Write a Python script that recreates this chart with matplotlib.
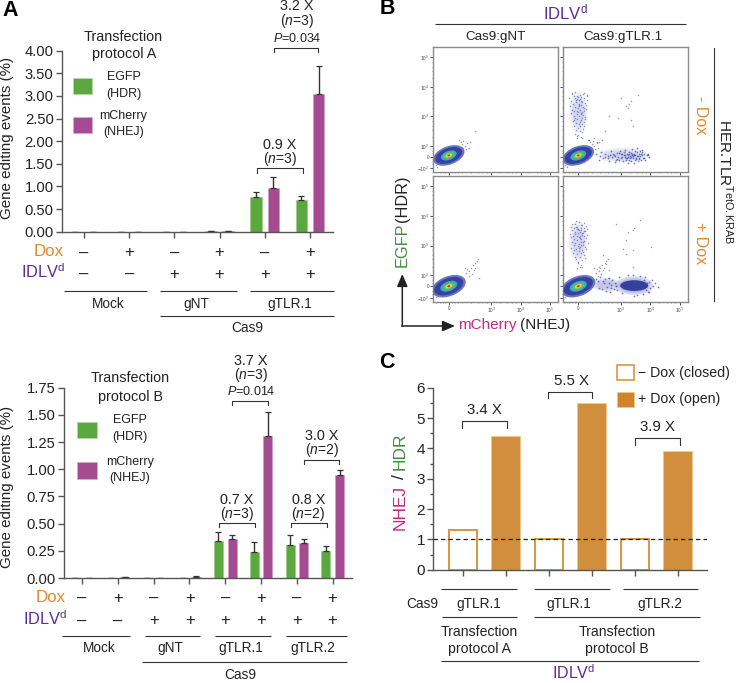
import matplotlib
matplotlib.use("Agg")
import matplotlib.pyplot as plt
from matplotlib.patches import Ellipse, Rectangle

W, H = 736, 683

plt.rcParams['font.family'] = ['Liberation Sans', 'DejaVu Sans']
plt.rcParams['mathtext.fontset'] = 'custom'
plt.rcParams['mathtext.rm'] = 'Liberation Sans'
plt.rcParams['mathtext.it'] = 'Liberation Sans:italic'
plt.rcParams['mathtext.bf'] = 'Liberation Sans:bold'

# Colours
GREEN = '#5ba83f'
MAGENTA = '#a54b91'
ORANGE = '#d18e3c'
DOX_ORANGE = '#e08a2e'
PURPLE = '#5b2d91'
TXT = '#222222'
AXC = '#555555'

# Panel A, protocol A
dox_a = ['-', '+', '-', '+', '-', '+']
idlv_a = ['-', '-', '+', '+', '+', '+']
egfp_a = [0, 0, 0, 0.005, 0.76, 0.69]
egfp_a_top = [0, 0, 0, 0.01, 0.88, 0.79]
mcherry_a = [0, 0, 0, 0.005, 0.96, 3.05]
mcherry_a_top = [0, 0, 0, 0.01, 1.20, 3.66]
yticks_a = [0, 0.5, 1, 1.5, 2, 2.5, 3, 3.5, 4]

# Panel A, protocol B
dox_b = ['-', '+', '-', '+', '-', '+', '-', '+']
idlv_b = ['-', '-', '+', '+', '+', '+', '+', '+']
egfp_b = [0, 0, 0, 0, 0.34, 0.235, 0.305, 0.245]
egfp_b_top = [0, 0, 0, 0, 0.42, 0.335, 0.40, 0.295]
mcherry_b = [0, 0.005, 0, 0.01, 0.355, 1.305, 0.32, 0.95]
mcherry_b_top = [0, 0.008, 0, 0.015, 0.40, 1.53, 0.36, 0.99]
yticks_b = [0, 0.25, 0.5, 0.75, 1, 1.25, 1.5, 1.75]

# Panel C
closed_c = [1.3, 1.0, 1.0]
open_c = [4.4, 5.5, 3.9]

# Panel B, density core of the flow plots: widths, heights, colours (outer to inner)
core_w = [1.12, 0.96, 0.56, 0.4, 0.23, 0.1]
core_h = [0.62, 0.5, 0.3, 0.2, 0.12, 0.06]
core_col = ['#6c74c0', '#36429f', '#35aacb', '#62c060', '#e8d838', '#d8232a']

# tiny fringe round the core, left panels
fringe_top_x = [0.45, 0.55, 0.62, 0.5, 0.68, 0.4, 0.58, 0.72, 0.35, 0.47, -0.45, -0.4, 0.9]
fringe_top_y = [0.42, 0.36, 0.47, 0.52, 0.3, 0.5, 0.25, 0.5, 0.55, 0.28, -0.3, -0.36, 0.88]
fringe_bot_x = [0.6, 0.7, 0.75, 0.82, 0.62, 0.9, 0.95, 0.68, 0.78, 0.85, 0.55, 1.0, 1.02, -0.45, 0.88]
fringe_bot_y = [0.45, 0.5, 0.62, 0.7, 0.58, 0.78, 0.85, 0.35, 0.42, 0.55, 0.6, 0.9, 0.28, -0.35, 0.62]

# Vertical EGFP cloud, - Dox gTLR.1
vert_top_x = [-0.22, -0.1, 0.05, 0.2, 0.28, -0.3, -0.15, 0.1, 0.18, -0.05, 0.3, -0.25, -0.08, 0.12, 0.22,
              -0.18, 0.02, 0.25, -0.28, 0.08, -0.12, 0.15, -0.02, 0.26, -0.2, 0.06, -0.14, 0.19, 0.0, -0.24,
              0.1, -0.06, 0.16, -0.16, 0.04, 0.22, -0.1, 0.13, -0.03, 0.08, -0.18, 0.2, -0.08, 0.03, 0.11,
              -0.13, 0.07, -0.02, 0.16, -0.07, 0.05, 0.12, -0.11, 0.0, 0.09, -0.04, 0.14, 0.02, -0.09, 0.3,
              0.34, -0.05, 0.06, 0.1, -0.12, 0.01, 0.18, -0.06, 0.08, 0.24, 0.36, -0.2, 0.15, -0.01, 0.04,
              0.12, -0.15, 0.07, 0.2, -0.03]
vert_top_y = [2.16, 2.2, 2.09, 2.16, 2.06, 2.0, 2.04, 2.01, 1.98, 1.96, 1.92, 1.88, 1.9, 1.85, 1.82,
              1.77, 1.79, 1.75, 1.71, 1.74, 1.67, 1.69, 1.63, 1.61, 1.57, 1.59, 1.53, 1.55, 1.51, 1.48,
              1.47, 1.43, 1.41, 1.39, 1.36, 1.35, 1.31, 1.31, 1.27, 1.23, 1.2, 1.18, 1.14, 1.12, 1.09,
              1.04, 1.02, 0.98, 0.94, 0.91, 0.86, 0.82, 0.78, 0.74, 0.68, 0.63, 0.62, 1.93, 1.84, 2.09,
              0.57, 2.06, 1.96, 1.88, 1.98, 1.75, 1.66, 1.54, 1.44, 1.28, 0.55, 2.12, 2.13, 2.02, 1.7,
              1.51, 1.25, 1.17, 1.04, 0.71]

# Horizontal mCherry cloud, - Dox gTLR.1
horz_top_x = [0.6, 0.7, 0.78, 0.85, 0.92, 1.0, 1.05, 1.1, 1.15, 1.2, 1.25, 1.3, 1.35, 1.38, 1.42,
              1.46, 1.5, 1.52, 1.55, 1.58, 1.6, 1.63, 1.66, 1.68, 1.7, 1.72, 1.75, 1.78, 1.8, 1.82,
              1.85, 1.88, 1.9, 1.92, 1.95, 1.98, 2.0, 2.02, 2.05, 2.08, 2.1, 2.12, 2.15, 2.18, 2.2,
              2.24, 2.28, 2.32, 2.38, 2.42, 1.25, 1.4, 1.55, 1.65, 1.72, 1.8, 1.88, 1.95, 2.03, 2.1,
              1.0, 1.18, 1.32, 1.48, 1.62, 1.76, 1.84, 1.94, 2.06, 2.16, 0.75, 0.9, 1.08, 1.28, 1.44,
              1.6, 1.74, 1.86, 1.98, 2.12, 2.25, 2.36, 1.7, 1.82, 1.92]
horz_top_y = [0.08, -0.1, 0.15, -0.05, 0.1, 0.02, -0.15, 0.18, -0.02, 0.05, -0.18, 0.12, 0.0, -0.1, 0.2,
              -0.05, 0.08, -0.16, 0.14, 0.0, 0.22, -0.1, 0.1, -0.2, 0.04, 0.17, -0.06, 0.12, -0.14, 0.25,
              0.02, -0.2, 0.08, 0.18, -0.08, 0.02, 0.28, -0.16, 0.1, -0.04, 0.2, -0.12, 0.06, 0.22, -0.06,
              0.1, -0.12, 0.04, 0.08, -0.02, 0.02, 0.12, 0.05, -0.03, 0.08, 0.0, 0.05, -0.04, 0.03, 0.01,
              -0.05, 0.1, -0.07, 0.0, -0.04, 0.02, 0.1, 0.06, -0.08, 0.14, 0.03, -0.02, 0.06, -0.1, 0.1,
              0.06, -0.12, -0.06, 0.16, 0.1, -0.04, 0.04, -0.01, 0.04, -0.1]

# Upper right sparse points, - Dox gTLR.1
sparse_top_x = [2.02, 1.8, 1.63, 1.46, 1.06, 1.34, 1.8, 1.85, 1.68, 1.74, 0.55, 0.65, 0.8]
sparse_top_y = [2.09, 1.87, 1.7, 1.98, 1.36, 1.31, 1.23, 1.02, 1.65, 1.77, 0.62, 0.5, 0.55]

# Vertical EGFP cloud, + Dox gTLR.1
vert_bot_x = [-0.08, 0.04, 0.2, -0.2, -0.1, 0.12, 0.25, -0.26, -0.05, 0.08, 0.18, -0.15, 0.0, 0.3, -0.22,
              0.1, -0.12, 0.22, -0.02, 0.16, -0.28, 0.05, 0.28, -0.18, 0.13, -0.06, 0.2, -0.24, 0.02, 0.26,
              -0.14, 0.08, -0.03, 0.18, -0.2, 0.1, 0.32, -0.1, 0.04, 0.15, -0.16, -0.01, 0.22, -0.25, 0.07,
              -0.08, 0.12, 0.27, -0.13, 0.03, 0.17, -0.19, 0.09, -0.04, 0.2, -0.11, 0.06, 0.24, -0.07, 0.11,
              0.0, -0.02, 0.1, 0.06, 0.14, -0.05, 0.08, 0.18, -0.12, 0.02, 0.13, 0.05, -0.09, 0.16, 0.1,
              0.03, -0.06, 0.07]
vert_bot_y = [2.2, 2.17, 2.12, 2.08, 2.1, 2.06, 2.03, 1.98, 2.0, 2.04, 1.97, 1.94, 1.91, 1.92, 1.88,
              1.89, 1.83, 1.85, 1.8, 1.78, 1.76, 1.82, 1.73, 1.7, 1.71, 1.67, 1.68, 1.64, 1.65, 1.62,
              1.59, 1.58, 1.55, 1.53, 1.5, 1.49, 1.46, 1.44, 1.41, 1.4, 1.37, 1.35, 1.33, 1.29, 1.31,
              1.26, 1.23, 1.25, 1.2, 1.19, 1.14, 1.13, 1.1, 1.07, 1.04, 0.99, 0.98, 0.95, 0.9, 0.88,
              0.8, 0.77, 0.71, 0.66, 0.63, 0.6, 1.97, 1.85, 1.74, 1.88, 1.77, 1.61, 2.0, 1.47, 1.38,
              1.28, 1.93, 1.7]

# Horizontal mCherry cloud around the dense spot, + Dox gTLR.1
horz_bot_x = [0.6, 0.68, 0.75, 0.8, 0.86, 0.92, 0.98, 1.03, 1.08, 1.12, 1.16, 1.2, 1.24, 1.28, 1.05, 0.95,
              0.72, 0.84, 1.3, 1.1, 2.25, 2.3, 2.35, 2.38, 2.42, 2.45, 2.5, 2.55, 2.62, 2.7, 1.4, 1.5,
              2.2, 2.28, 2.4, 1.7, 1.9, 2.1, 1.85, 2.0]
horz_bot_y = [0.25, 0.18, 0.32, -0.1, 0.1, 0.24, -0.02, 0.12, -0.18, 0.05, 0.2, -0.08, 0.1, 0.0, 0.28, -0.15,
              -0.05, 0.16, -0.12, -0.05, 0.22, -0.12, 0.1, -0.2, 0.15, -0.05, 0.2, 0.02, 0.1, -0.02, 0.3, -0.24,
              -0.25, 0.3, -0.18, 0.36, -0.32, 0.35, 0.38, -0.3]

# Upper right sparse points, + Dox gTLR.1
sparse_bot_x = [2.1, 1.91, 1.85, 1.68, 1.63, 1.29, 2.48, 1.63, 1.85, 1.51, 1.85, 0.83, 0.95, 1.06, 0.72]
sparse_bot_y = [2.22, 1.94, 1.88, 1.82, 1.54, 2.08, 1.32, 1.09, 1.21, 1.26, 0.64, 1.04, 0.76, 0.53, 0.64]

# Log-like tick positions of the flow plots
flow_xticks = [0, 1.45, 2.45, 3.45]
flow_yticks = [-0.4, 0, 0.36, 1.36, 2.36, 3.36]
flow_xlabels = ['0', '$10^3$', '$10^4$', '$10^5$']
flow_ylabels = ['$-10^2$', '0', '$10^2$', '$10^3$', '$10^4$', '$10^5$']
flow_xminor = [-0.45, -0.3, -0.2, -0.12, 0.12, 0.2, 0.3, 0.45, 0.75, 1.0, 1.15, 1.3, 1.75, 2.0, 2.15, 2.3, 2.75, 3.0, 3.15, 3.3]
flow_yminor = [-0.25, -0.15, 0.12, 0.2, 0.66, 0.9, 1.05, 1.2, 1.66, 1.9, 2.05, 2.2, 2.66, 2.9, 3.05, 3.2]

fig = plt.figure(figsize=(W / 100, H / 100), dpi=100)


def axes_px(left, top, right, bottom):
    return fig.add_axes([left / W, 1 - bottom / H, (right - left) / W, (bottom - top) / H])


# overlay in pixel coordinates for labels and brackets
ov = fig.add_axes([0, 0, 1, 1], zorder=5)
ov.set_xlim(0, W)
ov.set_ylim(H, 0)
ov.axis('off')
ov.patch.set_alpha(0)


def label(x, y, s, size=9.8, color=TXT, ha='center', va='center', **kw):
    ov.text(x, y, s, fontsize=size, color=color, ha=ha, va=va, **kw)


def hline(x0, x1, y, color='#333333', lw=0.8):
    ov.plot([x0, x1], [y, y], color=color, lw=lw, solid_capstyle='butt')


def bracket(x0, x1, top, drop, color='#333333'):
    ov.plot([x0, x0, x1, x1], [drop, top, top, drop], color=color, lw=0.8)


def fold(x, y, fold_txt, n_txt):
    # fold change with the n below it
    label(x, y - 1, fold_txt, size=10.4)
    label(x, y + 13.6, '($\\mathit{n}$=' + n_txt + ')', size=10)


def style_axes(ax, ymajor, yminor=None, size=10.6, fmt='{:.2f}'):
    for side in ['top', 'right']:
        ax.spines[side].set_visible(False)
    for side in ['left', 'bottom']:
        ax.spines[side].set_color(AXC)
        ax.spines[side].set_linewidth(1.0)
    ax.set_yticks(ymajor)
    ax.set_yticklabels([fmt.format(v) for v in ymajor], fontsize=size, color=TXT)
    ax.tick_params(axis='y', length=4.5, width=1, color=AXC, pad=1.5)
    ax.tick_params(axis='x', length=4.5, width=1, color=AXC, labelbottom=False)
    if yminor:
        ax.set_yticks(yminor, minor=True)
        ax.tick_params(axis='y', which='minor', length=2.5, width=1, color=AXC)


def grouped_bars(ax, egfp, egfp_top, mch, mch_top, ymax, ticks):
    xs = list(range(len(egfp)))
    off, w = 0.19, 0.255
    egfp_err = [t - v for t, v in zip(egfp_top, egfp)]
    mch_err = [t - v for t, v in zip(mch_top, mch)]
    ax.bar([x - off for x in xs], egfp, w, color=GREEN, edgecolor='#9fcb8a', linewidth=0.5,
           yerr=[[0] * len(xs), egfp_err], error_kw=dict(ecolor='#333333', elinewidth=1.0, capsize=2, capthick=0.9))
    ax.bar([x + off for x in xs], mch, w, color=MAGENTA, edgecolor='#cf9cc4', linewidth=0.5,
           yerr=[[0] * len(xs), mch_err], error_kw=dict(ecolor='#333333', elinewidth=1.0, capsize=2, capthick=0.9))
    ax.set_xticks(xs)
    ax.set_ylim(0, ymax)
    style_axes(ax, ticks)


def pm_rows(xs, dox, idlv, y_dox, y_idlv):
    sign = {'-': '\u2013', '+': '+'}
    for x, d, i in zip(xs, dox, idlv):
        label(x, y_dox, sign[d], size=12)
        label(x, y_idlv, sign[i], size=12)


# ---- Panel A top
ax_a = axes_px(62, 50.7, 333, 231.7)
ax_a.set_xlim(-0.487, 5.51)
grouped_bars(ax_a, egfp_a, egfp_a_top, mcherry_a, mcherry_a_top, 4.0, yticks_a)
label(2, 11, 'A', size=15.5, color='black', fontweight='bold', ha='left')
label(7, 138, 'Gene editing events (%)', size=10.9, rotation=90)
label(123, 36.7, 'Transfection', size=10.4)
label(123.7, 54.3, 'protocol A', size=10.4)
ov.add_patch(Rectangle((73.3, 78), 18.4, 16.3, fc=GREEN, ec='#b7d8a8', lw=0.6))
ov.add_patch(Rectangle((73.3, 116.7), 18.4, 16.6, fc=MAGENTA, ec='#d6abcd', lw=0.6))
label(123.7, 77.3, 'EGFP', size=9)
label(123.7, 93.7, '(HDR)', size=9)
label(123.3, 116.3, 'mCherry', size=9)
label(123.3, 132.3, '(NHEJ)', size=9)
fold(296.7, 7.2, '3.2 X', '3')
label(297.7, 38.3, '$\\mathit{P}$=0.034', size=9)
bracket(274, 318.3, 47.7, 51.7)
fold(280, 145.7, '0.9 X', '3')
bracket(256.7, 303.3, 168.3, 173.3)
label(63.3, 251, 'Dox', size=12.2, color=DOX_ORANGE, ha='right')
label(65, 271.5, 'IDLV$^{\\mathrm{d}}$', size=11.8, color=PURPLE, ha='right')
pm_rows([84, 129.3, 174.3, 219.3, 264.7, 310], dox_a, idlv_a, 253, 274.3)
hline(64.3, 147.3, 291)
hline(160, 236.7, 291)
hline(250, 334.3, 291)
label(108.7, 304, 'Mock')
label(196.7, 304, 'gNT')
label(289.3, 304, 'gTLR.1')
hline(160, 334.3, 316)
label(247.3, 328.3, 'Cas9')

# ---- Panel A bottom
ax_b = axes_px(64, 387.7, 351.7, 578)
ax_b.set_xlim(-0.503, 7.53)
grouped_bars(ax_b, egfp_b, egfp_b_top, mcherry_b, mcherry_b_top, 1.75, yticks_b)
label(7, 486.7, 'Gene editing events (%)', size=10.9, rotation=90)
label(130, 378.3, 'Transfection', size=10.4)
label(130, 396.7, 'protocol B', size=10.4)
ov.add_patch(Rectangle((77.3, 421.7), 19.4, 16.6, fc=GREEN, ec='#b7d8a8', lw=0.6))
ov.add_patch(Rectangle((77.3, 462.3), 19.4, 16.7, fc=MAGENTA, ec='#d6abcd', lw=0.6))
label(130, 420, 'EGFP', size=9)
label(130, 437.3, '(HDR)', size=9)
label(130, 462, 'mCherry', size=9)
label(130, 478.3, '(NHEJ)', size=9)
fold(250.7, 361.7, '3.7 X', '3')
label(251.7, 391.7, '$\\mathit{P}$=0.014', size=9)
bracket(232.3, 267.7, 400.7, 405)
fold(321.7, 436.7, '3.0 X', '2')
bracket(304, 339.3, 460, 464)
fold(236.7, 500.7, '0.7 X', '3')
bracket(218.7, 255, 523.3, 527.3)
fold(308.3, 500.7, '0.8 X', '2')
bracket(290.7, 326.7, 523.3, 527.3)
label(66, 597.3, 'Dox', size=12.2, color=DOX_ORANGE, ha='right')
label(67, 618.5, 'IDLV$^{\\mathrm{d}}$', size=11.8, color=PURPLE, ha='right')
pm_rows([82, 118, 153.7, 189.7, 225.3, 261.3, 296.7, 332.3], dox_b, idlv_b, 598.3, 621)
hline(62.3, 130, 636)
hline(145.3, 200, 636)
hline(215.3, 270.7, 636)
hline(286, 346.7, 636)
label(99.3, 648.3, 'Mock')
label(170, 648.3, 'gNT')
label(240.7, 648.3, 'gTLR.1')
label(312.3, 648.3, 'gTLR.2')
hline(141.7, 346.7, 662)
label(240, 675, 'Cas9')


# ---- Panel B
def flow_panel(left, top, right, bottom, core_y, show_y, show_x, core_scale=1.0):
    ax = axes_px(left, top, right, bottom)
    ax.set_xlim(-0.53, 3.72)
    ax.set_ylim(-0.52, 3.7)
    for sp in ax.spines.values():
        sp.set_color('#8a8a8a')
        sp.set_linewidth(1.0)
    for w, h, c in zip(core_w, core_h, core_col):
        ax.add_patch(Ellipse((0.0, core_y), w * core_scale, h * core_scale, angle=20, fc=c, ec='none', zorder=3))
    ax.set_xticks(flow_xticks)
    ax.set_yticks(flow_yticks)
    ax.set_xticks(flow_xminor, minor=True)
    ax.set_yticks(flow_yminor, minor=True)
    ax.set_xticklabels(flow_xlabels if show_x else [], fontsize=3.4, color='#444444')
    ax.set_yticklabels(flow_ylabels if show_y else [], fontsize=3.4, color='#444444')
    ax.tick_params(which='major', length=2, width=0.6, color='#333333', pad=1)
    ax.tick_params(which='minor', length=1, width=0.4, color='#555555')
    return ax


def dots(ax, xs, ys, size=1.1, alpha=0.6):
    ax.scatter(xs, ys, s=size, color='#3f4aa8', alpha=alpha, linewidths=0, zorder=2)


def haze(ax, cx, cy, w, h, alpha=0.12):
    # soft edged cloud behind the dots
    for f in [1.0, 0.8, 0.6]:
        ax.add_patch(Ellipse((cx, cy), w * f, h * f, fc='#7d84c9', alpha=alpha, ec='none', zorder=1))


ax_tl = flow_panel(433.3, 47.3, 557.7, 172, 0.04, True, False)
dots(ax_tl, fringe_top_x, fringe_top_y)
ax_tr = flow_panel(562.7, 47.3, 687.7, 172, 0.04, False, False)
haze(ax_tr, 0.0, 1.5, 0.62, 1.4)
haze(ax_tr, 1.5, 0.05, 1.8, 0.5)
dots(ax_tr, fringe_top_x, fringe_top_y)
dots(ax_tr, vert_top_x, vert_top_y)
dots(ax_tr, horz_top_x, horz_top_y, size=1.5, alpha=0.75)
dots(ax_tr, sparse_top_x, sparse_top_y)
ax_bl = flow_panel(433.3, 176, 557.7, 301.7, 0.0, True, True, 1.08)
dots(ax_bl, fringe_bot_x, fringe_bot_y)
ax_br = flow_panel(562.7, 176, 687.7, 301.7, 0.0, False, True, 1.08)
haze(ax_br, 0.0, 1.5, 0.62, 1.4)
haze(ax_br, 0.95, 0.05, 1.0, 0.45, alpha=0.18)
haze(ax_br, 1.9, 0.02, 1.3, 0.62, alpha=0.3)
ax_br.add_patch(Ellipse((1.9, 0.02), 0.95, 0.36, fc='#343f9e', ec='none', zorder=2))
dots(ax_br, fringe_bot_x, fringe_bot_y)
dots(ax_br, vert_bot_x, vert_bot_y)
dots(ax_br, horz_bot_x, horz_bot_y, size=1.5, alpha=0.75)
dots(ax_br, sparse_bot_x, sparse_bot_y)

label(380, 9, 'B', size=15.5, color='black', fontweight='bold', ha='left')
label(565, 12, 'IDLV$^{\\mathrm{d}}$', size=12, color=PURPLE)
hline(435, 686, 24.3)
label(496, 37.3, 'Cas9:gNT', size=9.6)
label(623.3, 37.3, 'Cas9:gTLR.1', size=9.6)
ov.plot([714.3, 714.3], [47.7, 301], color='#333333', lw=0.8)
label(700, 115, '- Dox', size=11.5, color=DOX_ORANGE, rotation=270)
label(700, 243, '+ Dox', size=11.5, color=DOX_ORANGE, rotation=270)
label(725, 182, 'HER.TLR$^{\\mathrm{TetO.KRAB}}$', size=11.1, rotation=270)
label(402.3, 245, 'EGFP', size=11.7, color='#3f8f3a', rotation=90)
label(402.3, 199, '(HDR)', size=11.7, rotation=90)
label(487, 325, 'mCherry', size=11, color='#c8267f')
label(545, 325, '(NHEJ)', size=11)
ov.annotate('', xy=(402.3, 274), xytext=(402.3, 326.5),
            arrowprops=dict(arrowstyle='-|>,head_width=0.32,head_length=0.75', color='#222222', lw=1.1,
                            shrinkA=0, shrinkB=0))
ov.annotate('', xy=(455, 326), xytext=(401.8, 326),
            arrowprops=dict(arrowstyle='-|>,head_width=0.32,head_length=0.75', color='#222222', lw=1.1,
                            shrinkA=0, shrinkB=0))

# ---- Panel C
ax_c = axes_px(433.3, 387.7, 706.7, 569.7)
ax_c.set_xlim(-0.684, 5.67)
ax_c.set_ylim(0, 6)
xs_closed = [0, 2, 4]
xs_open = [1, 3, 5]
ax_c.bar(xs_closed, closed_c, 0.66, facecolor='white', edgecolor='#dc9540', linewidth=1.4, zorder=2)
ax_c.bar(xs_open, open_c, 0.67, color=ORANGE, edgecolor='#eec792', linewidth=0.6, zorder=2)
ax_c.set_xticks(range(6))
style_axes(ax_c, [0, 1, 2, 3, 4, 5, 6], [0.5, 1.5, 2.5, 3.5, 4.5, 5.5], size=11, fmt='{:.0f}')
ax_c.axhline(1, color='#222222', lw=0.9, dashes=(3.5, 2.5), zorder=3)
label(379, 362.7, 'C', size=15.5, color='black', fontweight='bold', ha='left')
label(400, 507.3, 'NHEJ', size=12.5, color='#c8267f', rotation=90)
label(400, 476.7, '/', size=12.5, rotation=90)
label(400, 451.7, 'HDR', size=12.5, color='#3f8f3a', rotation=90)
ov.add_patch(Rectangle((617.2, 364.8), 16.4, 15, fc='white', ec='#dc9540', lw=1.2))
ov.add_patch(Rectangle((617.2, 391.7), 16.4, 15, fc='#cf842c', ec='#eec792', lw=0.6))
label(638.3, 373.3, '\u2212 Dox (closed)', size=10.2, ha='left')
label(638.3, 399, '+ Dox (open)', size=10.2, ha='left')
label(484.3, 410, '3.4 X', size=10.8)
bracket(462, 507, 421, 428.3)
label(571.7, 380.7, '5.5 X', size=10.8)
bracket(547.7, 592.3, 391.7, 398.3)
label(657.3, 427.3, '3.9 X', size=10.8)
bracket(635, 680, 438.3, 445.3)
hline(441, 517.3, 588.7)
hline(534.3, 610, 588.7)
hline(622.7, 698.3, 588.7)
label(438.3, 604, 'Cas9', ha='right')
label(479, 604, 'gTLR.1', size=9.9)
label(568.7, 604, 'gTLR.1', size=9.9)
label(660, 604, 'gTLR.2', size=9.9)
hline(441.7, 517.3, 617)
hline(534.3, 700, 617)
label(479.3, 632.3, 'Transfection', size=10.1)
label(479.3, 649.3, 'protocol A', size=10.1)
label(617.3, 632.3, 'Transfection', size=10.1)
label(617.3, 649.3, 'protocol B', size=10.1)
hline(441, 699, 661)
label(573.3, 672.5, 'IDLV$^{\\mathrm{d}}$', size=11.5, color=PURPLE)

fig.savefig('out.png', dpi=100)
